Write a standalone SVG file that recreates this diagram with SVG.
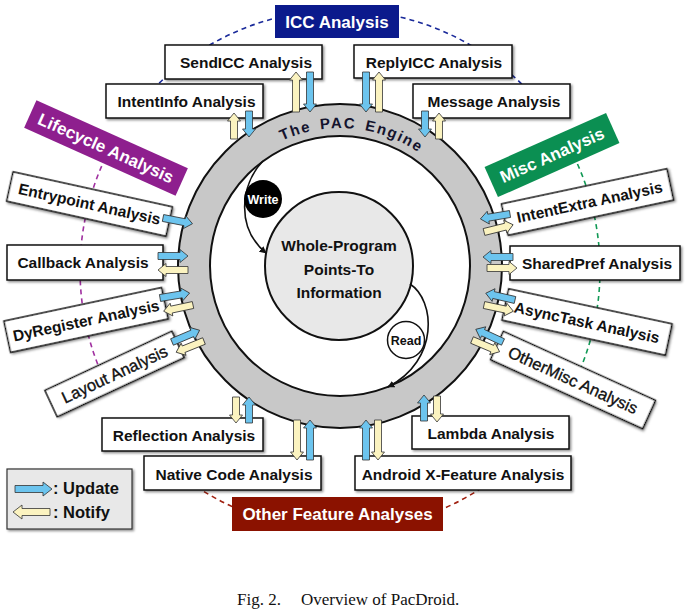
<svg xmlns="http://www.w3.org/2000/svg" width="687" height="615" viewBox="0 0 687 615">
  <style>
    .box{fill:#fff;stroke:#111;stroke-width:1.5;filter:url(#sh)}
    .lbl{font-family:"Liberation Sans",Arial,Helvetica,sans-serif;font-weight:bold;font-size:15.5px;fill:#111;text-anchor:middle}
    .reg{font-weight:normal;font-size:16.5px;stroke:#111;stroke-width:0.35}
    .ttl{font-family:"Liberation Sans",Arial,Helvetica,sans-serif;font-weight:bold;font-size:17px;fill:#fff;text-anchor:middle}
    .up{fill:#6cc4ee;stroke:#333;stroke-width:0.8}
    .nt{fill:#fbf3c0;stroke:#333;stroke-width:0.8}
    .dash{fill:none;stroke-width:1.6;stroke-dasharray:5 4}
    .flow{fill:none;stroke:#111;stroke-width:1.6}
  </style>
  <defs>
    <filter id="sh" x="-10%" y="-20%" width="130%" height="160%">
      <feDropShadow dx="1.5" dy="1.5" stdDeviation="1" flood-color="#000" flood-opacity="0.45"/>
    </filter>
    <marker id="tip" viewBox="0 0 10 10" refX="9" refY="5" markerWidth="7" markerHeight="7" orient="auto" markerUnits="userSpaceOnUse">
      <path d="M0,0L10,5L0,10Z" fill="#111"/>
    </marker>
    <!-- block arrows, tail at origin pointing along +x -->
    <path id="a26" d="M0,-3.5H18V-6.5L26,0L18,6.5V3.5H0Z"/>
    <path id="a30" d="M0,-3.5H22V-6.5L30,0L22,6.5V3.5H0Z"/>
    <path id="a40" d="M0,-3.5H32V-6.5L40,0L32,6.5V3.5H0Z"/>
    <path id="a37" d="M0,-3.5H28V-7L37,0L28,7V3.5H0Z"/>
    <path id="eng" d="M202,266 A138,138 0 0 1 478,266"/>
  </defs>

  <!-- group arcs -->
  <g id="group-arcs">
    <path class="dash" stroke="#1a2a9a" d="M140.8,102.9 A260,260 0 0 1 539.2,102.9"/>
    <path class="dash" stroke="#a030a0" d="M109.4,150 A260,260 0 0 0 104.4,379.9"/>
    <path class="dash" stroke="#119955" d="M569.6,147.9 A260,260 0 0 1 575.6,379.9"/>
    <path class="dash" stroke="#a02010" d="M517.3,460.2 A260,260 0 0 1 159.4,457"/>
  </g>

  <!-- engine ring -->
  <g id="engine">
    <circle cx="340" cy="266" r="162" fill="#c8c8c8" stroke="#111" stroke-width="2"/>
    <circle cx="340" cy="266" r="130" fill="#fff" stroke="#111" stroke-width="2"/>
    <text font-family="'Liberation Sans',Arial,sans-serif" font-weight="bold" font-size="15" fill="#14142e" letter-spacing="1.6" word-spacing="3" text-anchor="middle">
      <textPath href="#eng" startOffset="229">The PAC Engine</textPath>
    </text>
  </g>

  <g id="points-to">
    <circle cx="339" cy="266" r="74" fill="#e8e8e8" stroke="#111" stroke-width="2"/>
    <text class="lbl" x="339" y="251">Whole-Program</text>
    <text class="lbl" x="339" y="275">Points-To</text>
    <text class="lbl" x="339" y="298">Information</text>
  </g>

  <g id="rw-flows">
    <path class="flow" d="M263,161 C240,185 236,228 266,253" marker-end="url(#tip)"/>
    <path class="flow" d="M410,284 C435,300 440,360 388,387" marker-end="url(#tip)"/>
  </g>
  <g id="write">
    <circle cx="263" cy="199" r="19" fill="#000"/>
    <text class="lbl" x="263" y="203.5" style="font-size:12.5px;fill:#fff">Write</text>
  </g>
  <g id="read">
    <circle cx="406" cy="340" r="18.5" fill="#fff" stroke="#111" stroke-width="1.5"/>
    <text class="lbl" x="406" y="344.5" style="font-size:12.5px">Read</text>
  </g>

  <!-- group titles -->
  <g id="icc">
    <rect x="275" y="5" width="124" height="33" fill="#0b1a8c"/>
    <text class="ttl" x="337" y="28">ICC Analysis</text>
  </g>
  <g id="lifecycle" transform="translate(106,148) rotate(24.2)">
    <rect x="-83" y="-15" width="166" height="30" fill="#8e1f8e"/>
    <text class="ttl" x="0" y="6">Lifecycle Analysis</text>
  </g>
  <g id="misc" transform="translate(552,155) rotate(-24)">
    <rect x="-66.5" y="-16.5" width="133" height="33" fill="#0b8f52"/>
    <text class="ttl" x="0" y="6">Misc Analysis</text>
  </g>
  <g id="other">
    <rect x="232" y="497" width="211" height="34" fill="#8b1200"/>
    <text class="ttl" x="337.5" y="520">Other Feature Analyses</text>
  </g>

  <!-- ICC modules -->
  <g id="sendicc"><rect class="box" x="165" y="45" width="157" height="34"/><text class="lbl" x="246" y="68">SendICC Analysis</text></g>
  <g id="replyicc"><rect class="box" x="354" y="45" width="158" height="33"/><text class="lbl" x="434" y="68">ReplyICC Analysis</text></g>
  <g id="intentinfo"><rect class="box" x="106" y="84" width="157" height="34"/><text class="lbl" x="186.5" y="107">IntentInfo Analysis</text></g>
  <g id="message"><rect class="box" x="413" y="84" width="157" height="34"/><text class="lbl" x="494" y="107">Message Analysis</text></g>

  <!-- lifecycle modules -->
  <g id="entrypoint" transform="translate(89.5,204) rotate(12.4)"><rect class="box" x="-81.5" y="-15" width="163" height="30"/><text class="lbl" x="0" y="5.5">Entrypoint Analysis</text></g>
  <g id="callback"><rect class="box" x="7" y="245" width="156" height="35"/><text class="lbl" x="83" y="268">Callback Analysis</text></g>
  <g id="dyregister" transform="translate(86,320) rotate(-12)"><rect class="box" x="-80.5" y="-16" width="161" height="32"/><text class="lbl" x="0" y="6">DyRegister Analysis</text></g>
  <g id="layout" transform="translate(114.5,374) rotate(-25)"><rect class="box" x="-70" y="-14.5" width="140" height="29"/><text class="lbl reg" x="0" y="6">Layout Analysis</text></g>

  <!-- misc modules -->
  <g id="intentextra" transform="translate(587.5,202) rotate(-12)"><rect class="box" x="-84.5" y="-16" width="169" height="32"/><text class="lbl" x="2" y="6">IntentExtra Analysis</text></g>
  <g id="sharedpref"><rect class="box" x="510" y="246" width="170" height="34"/><text class="lbl" x="597" y="269">SharedPref Analysis</text></g>
  <g id="asynctask" transform="translate(587,322) rotate(12.1)"><rect class="box" x="-83.5" y="-16" width="167" height="32"/><text class="lbl" x="0" y="6">AsyncTask Analysis</text></g>
  <g id="othermisc" transform="translate(573,380) rotate(24.4)"><rect class="box" x="-83.5" y="-15.5" width="167" height="31"/><text class="lbl reg" x="0" y="6">OtherMisc Analysis</text></g>

  <!-- other feature modules -->
  <g id="reflection"><rect class="box" x="102" y="418" width="161" height="33"/><text class="lbl" x="184" y="441">Reflection Analysis</text></g>
  <g id="nativecode"><rect class="box" x="144" y="456" width="177" height="34"/><text class="lbl" x="234" y="479.5">Native Code Analysis</text></g>
  <g id="lambda"><rect class="box" x="412" y="416" width="157" height="33"/><text class="lbl" x="491" y="438.5">Lambda Analysis</text></g>
  <g id="androidx"><rect class="box" x="355" y="456" width="216" height="34"/><text class="lbl" x="463" y="479.5">Android X-Feature Analysis</text></g>

  <!-- update / notify connectors -->
  <g id="connectors">
    <use href="#a40" class="nt" transform="translate(296,112) rotate(-90)"/>
    <use href="#a40" class="up" transform="translate(310,72) rotate(90)"/>
    <use href="#a26" class="nt" transform="translate(234,139) rotate(-90)"/>
    <use href="#a26" class="up" transform="translate(249,111) rotate(90)"/>
    <use href="#a40" class="up" transform="translate(366,72) rotate(90)"/>
    <use href="#a40" class="nt" transform="translate(379,112) rotate(-90)"/>
    <use href="#a26" class="up" transform="translate(425,111) rotate(90)"/>
    <use href="#a26" class="nt" transform="translate(439,139) rotate(-90)"/>

    <use href="#a26" class="nt" transform="translate(236,397) rotate(90)"/>
    <use href="#a26" class="up" transform="translate(249,423) rotate(-90)"/>
    <use href="#a40" class="nt" transform="translate(297,420) rotate(90)"/>
    <use href="#a40" class="up" transform="translate(310,460) rotate(-90)"/>
    <use href="#a40" class="up" transform="translate(366,460) rotate(-90)"/>
    <use href="#a40" class="nt" transform="translate(378,420) rotate(90)"/>
    <use href="#a26" class="up" transform="translate(424,421) rotate(-90)"/>
    <use href="#a26" class="nt" transform="translate(437,396) rotate(90)"/>

    <use href="#a30" class="up" transform="translate(163,218) rotate(11)"/>
    <use href="#a30" class="up" transform="translate(158,256)"/>
    <use href="#a30" class="nt" transform="translate(188,270) rotate(180)"/>
    <use href="#a30" class="up" transform="translate(160,298) rotate(-9.5)"/>
    <use href="#a30" class="nt" transform="translate(193,305) rotate(168)"/>
    <use href="#a30" class="up" transform="translate(172,342) rotate(-23)"/>
    <use href="#a30" class="nt" transform="translate(204,341) rotate(158)"/>

    <use href="#a30" class="up" transform="translate(510,214) rotate(170.5)"/>
    <use href="#a30" class="nt" transform="translate(484,232) rotate(-14)"/>
    <use href="#a30" class="up" transform="translate(513,257) rotate(180)"/>
    <use href="#a30" class="nt" transform="translate(487,268)"/>
    <use href="#a30" class="up" transform="translate(515,300) rotate(193)"/>
    <use href="#a30" class="nt" transform="translate(484,305) rotate(12)"/>
    <use href="#a30" class="up" transform="translate(503,342) rotate(205)"/>
    <use href="#a30" class="nt" transform="translate(472,340) rotate(23)"/>
  </g>

  <!-- legend -->
  <g id="legend">
    <rect x="7" y="469" width="125" height="60" fill="#e8e8e8" stroke="#333" stroke-width="1.2" filter="url(#sh)"/>
    <use href="#a37" class="up" transform="translate(15,489)"/>
    <use href="#a37" class="nt" transform="translate(50,512) rotate(180)"/>
    <text class="lbl" x="53" y="494" style="text-anchor:start;font-size:16.5px">: Update</text>
    <text class="lbl" x="53" y="518" style="text-anchor:start;font-size:16.5px">: Notify</text>
  </g>

  <!-- caption -->
  <g font-family="'Liberation Serif','Times New Roman',serif" font-size="17" fill="#111">
    <text x="237" y="605">Fig. 2.</text>
    <text x="301" y="605">Overview of PacDroid.</text>
  </g>
</svg>
